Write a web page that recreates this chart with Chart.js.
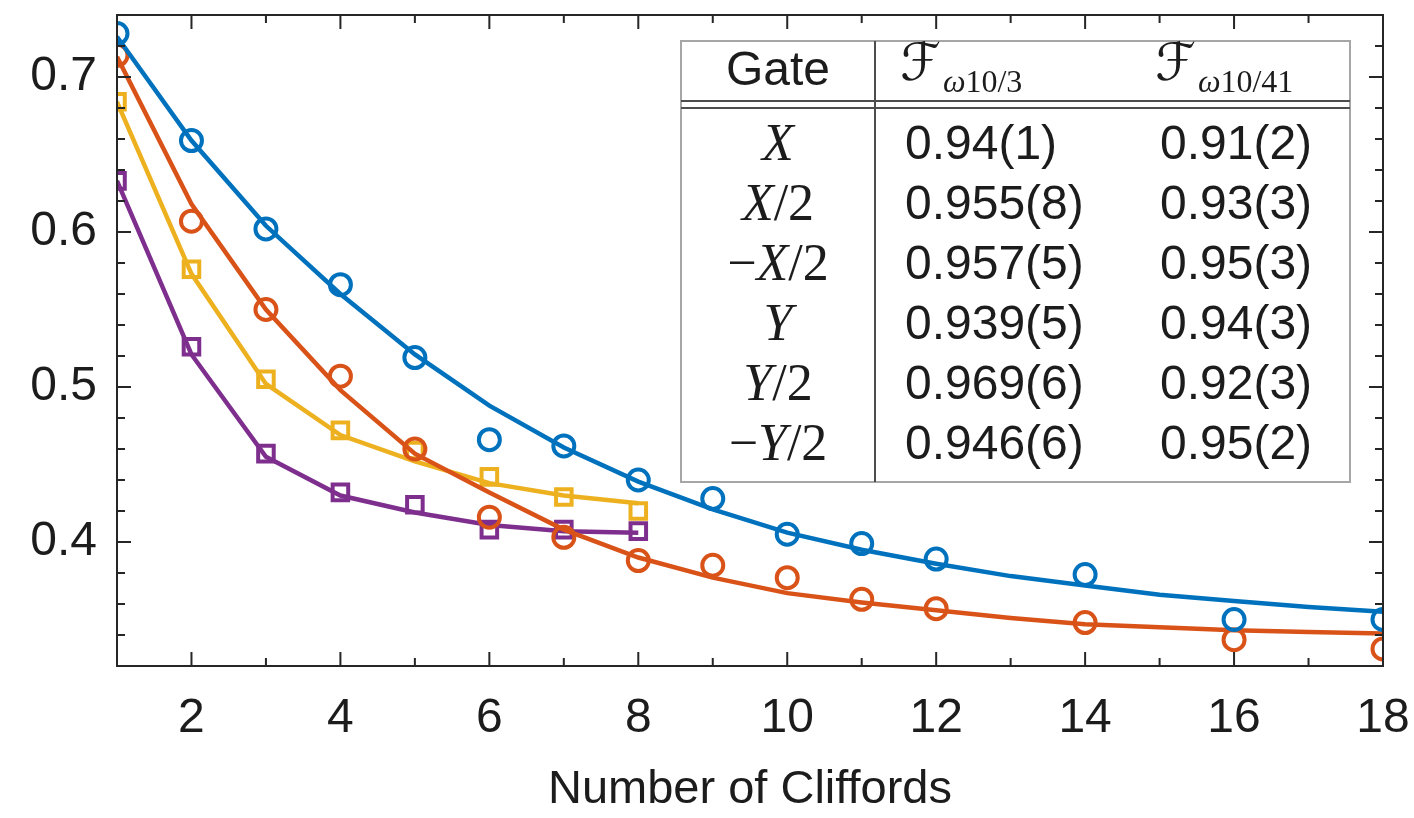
<!DOCTYPE html>
<html>
<head>
<meta charset="utf-8">
<script src="https://cdn.jsdelivr.net/npm/chart.js@4.4.1/dist/chart.umd.min.js"></script>
<style>
  body { margin: 0; background: #fff; }
  canvas { display: block; }
</style>
</head>
<body>
<canvas id="rbChart" width="1414" height="818"></canvas>
<script>
// ── Data ──
var cliffordsMeas = [1, 2, 3, 4, 5, 6, 7, 8, 9, 10, 11, 12, 14, 16, 18];
var cliffordsFit = [1, 2, 3, 4, 5, 6, 7, 8, 9, 10, 11, 12, 13, 14, 15, 16, 17, 18];
var cliffordsShort = [1, 2, 3, 4, 5, 6, 7, 8];

var blueMeas = [0.728, 0.659, 0.602, 0.566, 0.519, 0.466, 0.462, 0.440, 0.428, 0.405, 0.399, 0.389, 0.379, 0.350, 0.350];
var blueFit = [0.726, 0.659, 0.604, 0.560, 0.521, 0.488, 0.461, 0.439, 0.421, 0.406, 0.395, 0.386, 0.378, 0.372, 0.366, 0.362, 0.358, 0.355];

var redMeas = [0.714, 0.607, 0.550, 0.507, 0.460, 0.416, 0.403, 0.388, 0.385, 0.377, 0.363, 0.357, 0.348, 0.337, 0.331];
var redFit = [0.713, 0.618, 0.550, 0.498, 0.457, 0.432, 0.408, 0.390, 0.377, 0.367, 0.361, 0.356, 0.351, 0.347, 0.345, 0.343, 0.342, 0.341];

var yellowMeas = [0.684, 0.576, 0.505, 0.472, 0.459, 0.442, 0.429, 0.420];
var yellowFit = [0.684, 0.573, 0.502, 0.469, 0.452, 0.438, 0.430, 0.425];

var purpleMeas = [0.633, 0.526, 0.457, 0.432, 0.424, 0.408, 0.408, 0.407];
var purpleFit = [0.633, 0.521, 0.455, 0.430, 0.419, 0.411, 0.407, 0.406];

// inset table
var gateLabels = ['X', 'X/2', '\u2212X/2', 'Y', 'Y/2', '\u2212Y/2'];
var fidelity3 = ['0.94(1)', '0.955(8)', '0.957(5)', '0.939(5)', '0.969(6)', '0.946(6)'];
var fidelity41 = ['0.91(2)', '0.93(3)', '0.95(3)', '0.94(3)', '0.92(3)', '0.95(2)'];
var fidelityHeaders = ['10/3', '10/41'];

var COLORS = { blue: '#0072BD', red: '#D95319', yellow: '#EDB120', purple: '#7E2F8E' };
var SANS = '"Liberation Sans", Arial, sans-serif';
var SERIF = '"Liberation Serif", "Times New Roman", serif';
var INK = '#1c1c1c';

function pts(xs, ys) {
    return xs.map(function(x, i) { return { x: x, y: ys[i] }; });
}

function fitSet(xs, ys, color) {
    return {
        data: pts(xs, ys), showLine: true, borderColor: color, borderWidth: 4.5,
        pointRadius: 0, tension: 0, fill: false
    };
}

function measSet(xs, ys, color, style) {
    return {
        data: pts(xs, ys), showLine: false, pointStyle: style,
        pointRadius: style === 'rect' ? 11 : 10.5,
        pointBorderWidth: 4,
        pointBorderColor: color, pointBackgroundColor: 'rgba(0,0,0,0)',
        borderColor: color
    };
}

function isMajor(v, step) {
    var q = v / step;
    return Math.abs(q - Math.round(q)) < 1e-6;
}

// ── Box frame + inward ticks on all four sides ──
var framePlugin = {
    id: 'frame',
    afterDatasetsDraw: function(chart) {
        var ctx = chart.ctx, a = chart.chartArea;
        var xs = chart.scales.x, ys = chart.scales.y;
        ctx.save();
        ctx.strokeStyle = '#262626';
        ctx.lineWidth = 2;
        ctx.beginPath();
        xs.ticks.forEach(function(t) {
            var px = xs.getPixelForValue(t.value);
            var len = isMajor(t.value, 2) ? 14 : 8;
            ctx.moveTo(px, a.bottom); ctx.lineTo(px, a.bottom - len);
            ctx.moveTo(px, a.top); ctx.lineTo(px, a.top + len);
        });
        ys.ticks.forEach(function(t) {
            var py = ys.getPixelForValue(t.value);
            var len = isMajor(t.value, 0.1) ? 14 : 8;
            ctx.moveTo(a.left, py); ctx.lineTo(a.left + len, py);
            ctx.moveTo(a.right, py); ctx.lineTo(a.right - len, py);
        });
        ctx.stroke();
        ctx.strokeRect(a.left, a.top, a.right - a.left, a.bottom - a.top);
        ctx.restore();
    }
};

// draws a math string: capital letters italic, rest upright
function drawMath(ctx, text, cx, cy, size) {
    var runs = text.split('').map(function(ch) {
        return { ch: ch, font: (/[A-Z]/.test(ch) ? 'italic ' : '') + size + 'px ' + SERIF };
    });
    var total = 0;
    runs.forEach(function(r) { ctx.font = r.font; r.w = ctx.measureText(r.ch).width; total += r.w; });
    var x = cx - total / 2;
    runs.forEach(function(r) {
        ctx.font = r.font;
        ctx.fillText(r.ch, x, cy);
        x += r.w;
    });
}

function drawFidelityHeader(ctx, sub, x, y) {
    ctx.font = '52px "DejaVu Sans", ' + SERIF;
    ctx.fillText('\u2131', x, y);
    var w = ctx.measureText('\u2131').width;
    ctx.font = 'italic 32px ' + SERIF;
    ctx.fillText('\u03C9', x + w + 2, y + 18);
    var w2 = ctx.measureText('\u03C9').width;
    ctx.font = '32px ' + SERIF;
    ctx.fillText(sub, x + w + 2 + w2, y + 18);
}

// ── Inset fidelity table ──
var tablePlugin = {
    id: 'fidelityTable',
    afterDraw: function(chart) {
        var ctx = chart.ctx;
        var L = 681, R = 1350, T = 41, B = 482, DIV = 875;
        ctx.save();
        ctx.fillStyle = '#fff';
        ctx.fillRect(L, T, R - L, B - T);
        ctx.strokeStyle = '#a6a6a6';
        ctx.lineWidth = 2;
        ctx.strokeRect(L, T, R - L, B - T);
        ctx.strokeStyle = '#4d4d4d';
        ctx.beginPath();
        ctx.moveTo(DIV, T); ctx.lineTo(DIV, B);
        ctx.moveTo(L, 101); ctx.lineTo(R, 101);
        ctx.moveTo(L, 108); ctx.lineTo(R, 108);
        ctx.stroke();

        ctx.fillStyle = INK;
        ctx.textBaseline = 'middle';
        ctx.textAlign = 'center';
        ctx.font = '48px ' + SANS;
        ctx.fillText('Gate', 778, 72);
        ctx.textAlign = 'left';
        drawFidelityHeader(ctx, fidelityHeaders[0], 900, 66);
        drawFidelityHeader(ctx, fidelityHeaders[1], 1155, 66);

        for (var i = 0; i < gateLabels.length; i++) {
            var y = 146 + i * 60;
            ctx.textAlign = 'left';
            drawMath(ctx, gateLabels[i], 778, y, 52);
            ctx.font = '48px ' + SANS;
            ctx.fillText(fidelity3[i], 905, y);
            ctx.fillText(fidelity41[i], 1160, y);
        }
        ctx.restore();
    }
};

var ctx = document.getElementById('rbChart').getContext('2d');
var chart = new Chart(ctx, {
    type: 'scatter',
    data: {
        datasets: [
            measSet(cliffordsMeas, blueMeas, COLORS.blue, 'circle'),
            fitSet(cliffordsFit, blueFit, COLORS.blue),
            measSet(cliffordsMeas, redMeas, COLORS.red, 'circle'),
            fitSet(cliffordsFit, redFit, COLORS.red),
            measSet(cliffordsShort, yellowMeas, COLORS.yellow, 'rect'),
            fitSet(cliffordsShort, yellowFit, COLORS.yellow),
            measSet(cliffordsShort, purpleMeas, COLORS.purple, 'rect'),
            fitSet(cliffordsShort, purpleFit, COLORS.purple)
        ]
    },
    options: {
        responsive: false,
        animation: false,
        layout: { padding: { top: 11, right: 31, left: 0, bottom: 0 } },
        plugins: { legend: { display: false }, tooltip: { enabled: false } },
        scales: {
            x: {
                type: 'linear', min: 1, max: 18,
                grid: { display: false, drawTicks: false },
                border: { display: false },
                ticks: {
                    stepSize: 1, autoSkip: false, maxRotation: 0, padding: 24,
                    color: INK, font: { family: SANS, size: 48 },
                    callback: function(v) { return isMajor(v, 2) ? String(Math.round(v)) : ''; }
                },
                title: {
                    display: true, text: 'Number of Cliffords', color: INK,
                    font: { family: SANS, size: 47 }, padding: { top: 4, bottom: 0 }
                },
                afterFit: function(s) {
                    s.height = 152;
                    s.paddingLeft = 0; s.paddingRight = 0;
                }
            },
            y: {
                type: 'linear', min: 0.32, max: 0.74,
                grid: { display: false, drawTicks: false },
                border: { display: false },
                ticks: {
                    stepSize: 0.02, autoSkip: false, padding: 20,
                    color: INK, font: { family: SANS, size: 48 },
                    callback: function(v) { return isMajor(v, 0.1) ? v.toFixed(1) : ''; }
                },
                afterFit: function(s) {
                    s.width = 117;
                    s.paddingTop = 0; s.paddingBottom = 0;
                }
            }
        }
    },
    plugins: [framePlugin, tablePlugin]
});
</script>
</body>
</html>
